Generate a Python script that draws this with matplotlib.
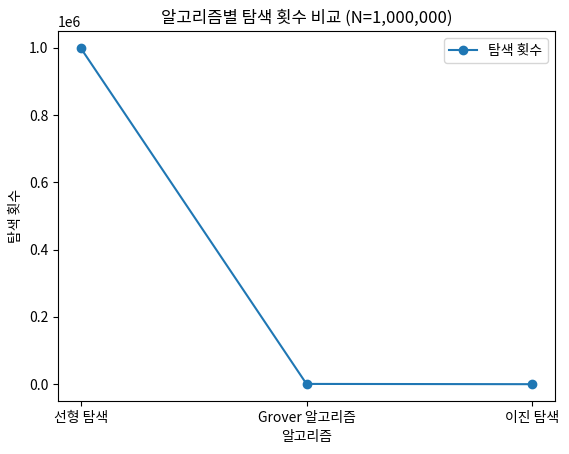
import matplotlib; matplotlib.use("Agg")
import matplotlib.pyplot as plt

plt.rcParams['font.family'] = ['Noto Sans CJK KR', 'DejaVu Sans']

algorithms = ["선형 탐색", "Grover 알고리즘", "이진 탐색"]
search_counts = [1000000, 785, 20]

fig = plt.figure(figsize=(5.69, 4.54), dpi=100)
ax = fig.add_axes([58/569, 1 - 401/454, (555-58)/569, (401-31)/454])
ax.plot(algorithms, search_counts, marker="o", label="탐색 횟수")
ax.set_title("알고리즘별 탐색 횟수 비교 (N=1,000,000)")
ax.set_xlabel("알고리즘")
ax.set_ylabel("탐색 횟수")
ax.legend()
fig.savefig("out.png", dpi=100)
